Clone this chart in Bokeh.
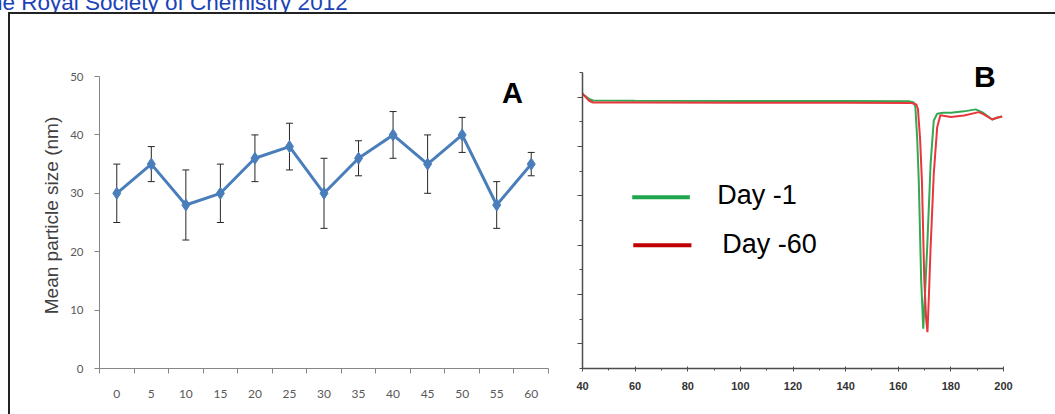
from bokeh.plotting import figure
from bokeh.layouts import column, row
from bokeh.models import (Range1d, FixedTicker, Whisker, TeeHead, ColumnDataSource,
                          Label, Div)
from bokeh.core.properties import value
from bokeh.embed import file_html
from bokeh.resources import INLINE

# ---------------- data ----------------
# Panel A: mean particle size vs storage day
days = [0, 5, 10, 15, 20, 25, 30, 35, 40, 45, 50, 55, 60]
mean_size = [30, 35, 28, 30, 36, 38, 30, 36, 40, 35, 40, 28, 35]
size_err = [5, 3, 6, 5, 4, 4, 6, 3, 4, 5, 3, 4, 2]
a_yticks = [0, 10, 20, 30, 40, 50]

# Panel B: DSC thermograms (arbitrary units)
day1_x = [40, 41, 42.5, 44, 60, 100, 140, 164, 165.9, 166.5, 167.2, 167.8, 168.7,
          169.5, 170.2, 171.0, 172.3, 173.5, 174.8, 177, 180, 185, 189.4, 192,
          195.7, 197.5, 199.5]
day1_y = [11.1, 11.05, 10.92, 10.86, 10.85, 10.84, 10.84, 10.83, 10.78, 10.6, 9.3,
          7.6, 3.6, 1.61, 3.1, 4.92, 8.3, 10.05, 10.32, 10.36, 10.36, 10.42, 10.5,
          10.38, 10.09, 10.16, 10.21]
day60_x = [40, 41, 42.5, 44, 60, 100, 140, 165, 166.9, 167.5, 168.3, 169.0, 169.9,
           170.6, 171.1, 171.7, 172.3, 173.5, 174.8, 176.0, 180, 185, 190.6, 192.5,
           195.7, 197.5, 199.5]
day60_y = [11.15, 11.02, 10.85, 10.78, 10.78, 10.77, 10.77, 10.76, 10.7, 10.5, 9.3,
           7.6, 3.6, 2.0, 1.47, 3.1, 4.92, 7.89, 9.78, 10.26, 10.19, 10.25, 10.39,
           10.3, 10.09, 10.16, 10.21]
b_xticks = [40, 60, 80, 100, 120, 140, 160, 180, 200]
b_xminor = [50, 70, 90, 110, 130, 150, 170, 190]
b_ymajor = [1, 3, 5, 7, 9, 11]
b_yminor = [0, 2, 4, 6, 8, 10, 12]

legend_labels = ["Day -1", "Day -60"]
legend_colors = ["#1fa64e", "#c00000"]
legend_line_x0 = [58.9, 59.3]
legend_line_x1 = [80.8, 81.4]
legend_line_y = [6.94, 4.99]
legend_text_x = [91.2, 93.1]
legend_text_y = [7.05, 5.03]

header_text = "he Royal Society of Chemistry 2012"

BORDER_TOP = 48
BORDER_BOTTOM = 46

# ---------------- panel A ----------------
AX = "#868686"
blue = "#4a7ebb"
pA = figure(width=556, height=400, x_range=Range1d(-2.5, 62.5), y_range=Range1d(0, 52.4),
            output_backend="svg", toolbar_location=None,
            min_border_left=89, min_border_right=18,
            min_border_top=BORDER_TOP, min_border_bottom=BORDER_BOTTOM)
pA.outline_line_color = None
pA.grid.visible = False

src = ColumnDataSource(dict(x=days, y=mean_size,
                            lo=[m - e for m, e in zip(mean_size, size_err)],
                            hi=[m + e for m, e in zip(mean_size, size_err)]))
pA.line("x", "y", source=src, line_width=3, line_color=blue)
pA.scatter("x", "y", source=src, marker="diamond", size=12, color=blue)
wh = Whisker(base="x", lower="lo", upper="hi", source=src, line_color="#262626", line_width=1,
             upper_head=TeeHead(size=7, line_color="#262626", line_width=1),
             lower_head=TeeHead(size=7, line_color="#262626", line_width=1))
pA.add_layout(wh)

xa = pA.xaxis[0]
xa.ticker = FixedTicker(ticks=days, minor_ticks=[d - 2.5 for d in days] + [62.5])
xa.major_tick_out = 0
xa.major_tick_in = 0
xa.minor_tick_out = 5
xa.minor_tick_in = 0
xa.minor_tick_line_color = AX
xa.axis_line_color = AX
xa.major_label_text_font = "Lato"
xa.major_label_text_font_size = "12px"
xa.major_label_text_color = "#595959"
xa.major_label_standoff = 16

ya = pA.yaxis[0]
ya.bounds = (0, 50)
ya.ticker = FixedTicker(ticks=a_yticks, minor_ticks=[])
ya.major_tick_out = 5
ya.major_tick_in = 0
ya.major_tick_line_color = AX
ya.axis_line_color = AX
ya.major_label_text_font = "Lato"
ya.major_label_text_font_size = "11.5px"
ya.major_label_text_color = "#595959"
ya.major_label_standoff = 11
ya.axis_label = "Mean particle size (nm)"
ya.axis_label_text_font = "Liberation Sans"
ya.axis_label_text_font_style = "normal"
ya.axis_label_text_font_size = "19px"
ya.axis_label_text_color = "#404040"
ya.axis_label_standoff = 5

pA.add_layout(Label(x=57.3, y=47.15, text="A", text_font="Liberation Sans",
                    text_font_style="bold", text_font_size="29px",
                    text_align="center", text_baseline="middle", text_color="black"))

# ---------------- panel B ----------------
BX = "#4d4d4d"
pB = figure(width=489, height=400, x_range=Range1d(40, 200), y_range=Range1d(0, 12.4),
            output_backend="svg", toolbar_location=None,
            min_border_left=16, min_border_right=52,
            min_border_top=BORDER_TOP, min_border_bottom=BORDER_BOTTOM)
pB.outline_line_color = None
pB.grid.visible = False

pB.line(day1_x, day1_y, line_width=2, line_color="#34a853")
pB.line(day60_x, day60_y, line_width=2, line_color="#e8363c")

pB.segment(x0=legend_line_x0, y0=legend_line_y, x1=legend_line_x1, y1=legend_line_y,
           line_color=legend_colors, line_width=4)
pB.text(x=legend_text_x, y=legend_text_y, text=legend_labels,
        text_font=value("Liberation Sans"), text_font_size="27px", text_color="black",
        text_align="left", text_baseline="middle")

xb = pB.xaxis[0]
xb.ticker = FixedTicker(ticks=b_xticks, minor_ticks=b_xminor)
xb.axis_line_color = BX
xb.axis_line_width = 1.5
xb.major_tick_line_color = BX
xb.minor_tick_line_color = BX
xb.major_tick_out = 3
xb.major_tick_in = 2
xb.minor_tick_out = 2
xb.minor_tick_in = 0
xb.major_label_text_font = "Liberation Sans"
xb.major_label_text_font_style = "bold"
xb.major_label_text_font_size = "11px"
xb.major_label_text_color = "#333333"
xb.major_label_standoff = 10

yb = pB.yaxis[0]
yb.bounds = (0, 12)
yb.ticker = FixedTicker(ticks=b_ymajor, minor_ticks=b_yminor)
yb.axis_line_color = BX
yb.axis_line_width = 1.5
yb.major_tick_line_color = BX
yb.minor_tick_line_color = BX
yb.major_tick_out = 5
yb.major_tick_in = 0
yb.minor_tick_out = 3
yb.minor_tick_in = 0
yb.major_label_overrides = {t: "" for t in b_ymajor}
yb.major_label_standoff = 0

pB.add_layout(Label(x=192.9, y=11.84, text="B", text_font="Liberation Sans",
                    text_font_style="bold", text_font_size="30px",
                    text_align="center", text_baseline="middle", text_color="black"))

# ---------------- page frame ----------------
header = Div(text=('<div style="position:relative;left:-10px;top:-8.1px;white-space:nowrap;'
                   "font-family:'Liberation Sans',Arial,sans-serif;font-size:22.5px;"
                   'line-height:22.5px;color:#1b43b8;">' + header_text + '</div>'),
             width=1055, height=12, margin=0, styles={"overflow": "hidden"})
top_pad = Div(text="", width=8, height=2, margin=0)
top_line = Div(text="", width=1047, height=2, margin=0, styles={"background-color": "#222222"})
left_pad = Div(text="", width=8, height=400, margin=0)
left_line = Div(text="", width=2, height=400, margin=0, styles={"background-color": "#222222"})

layout = column(header, row(top_pad, top_line, spacing=0),
                row(left_pad, left_line, pA, pB, spacing=0), spacing=0)

open("out.html", "w").write(file_html(layout, INLINE))
